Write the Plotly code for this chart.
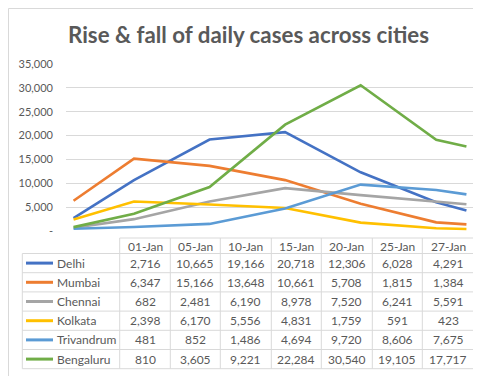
import plotly.graph_objects as go

# ---- data ----
cities = ["Delhi", "Mumbai", "Chennai", "Kolkata", "Trivandrum", "Bengaluru"]
dates = ["2021-01-01", "2021-01-05", "2021-01-10", "2021-01-15",
         "2021-01-20", "2021-01-25", "2021-01-27"]
date_labels = ["01-Jan", "05-Jan", "10-Jan", "15-Jan", "20-Jan", "25-Jan", "27-Jan"]
delhi = [2716, 10665, 19166, 20718, 12306, 6028, 4291]
mumbai = [6347, 15166, 13648, 10661, 5708, 1815, 1384]
chennai = [682, 2481, 6190, 8978, 7520, 6241, 5591]
kolkata = [2398, 6170, 5556, 4831, 1759, 591, 423]
trivandrum = [481, 852, 1486, 4694, 9720, 8606, 7675]
bengaluru = [810, 3605, 9221, 22284, 30540, 19105, 17717]
colors = ["#4472C4", "#ED7D31", "#A5A5A5", "#FFC000", "#5B9BD5", "#70AD47"]
y_ticks = [0, 5000, 10000, 15000, 20000, 25000, 30000, 35000]
y_tick_text = ["-", "5,000", "10,000", "15,000", "20,000", "25,000", "30,000", "35,000"]

series = [delhi, mumbai, chennai, kolkata, trivandrum, bengaluru]

W, H = 481, 376
ML, MR, MT, MB = 58, 15, 56, 153
PW = W - ML - MR
PH = H - MT - MB
FONT = "Lato"
TXT = "#595959"
GRID = "#D9D9D9"


def px(x):
    return (x - ML) / PW


def py(y):
    return (H - MB - y) / PH


fig = go.Figure()
for name, vals, col in zip(cities, series, colors):
    fig.add_trace(go.Scatter(x=dates, y=vals, name=name, mode="lines",
                             line=dict(color=col, width=2.6),
                             showlegend=False))

shapes = []
annotations = []

# table geometry
col_edges = [14.3, 111.7, 162.3, 212.3, 263.3, 313.3, 364.3, 414.3, 465.7]
head_top = 230.0
head_bot = 245.5
row_h = 19.2
n_rows = len(cities)
table_bot = head_bot + row_h * n_rows


def hline(x0, x1, y):
    shapes.append(dict(type="line", xref="paper", yref="paper",
                       x0=px(x0), x1=px(x1), y0=py(y), y1=py(y),
                       line=dict(color=GRID, width=1)))


def vline(x, y0, y1):
    shapes.append(dict(type="line", xref="paper", yref="paper",
                       x0=px(x), x1=px(x), y0=py(y0), y1=py(y1),
                       line=dict(color=GRID, width=1)))


hline(col_edges[1], col_edges[-1], head_top)
for k in range(n_rows + 1):
    hline(col_edges[0], col_edges[-1], head_bot + row_h * k)
vline(col_edges[0], head_bot, table_bot)
for xe in col_edges[1:]:
    vline(xe, head_top, table_bot)

# header labels
for j, lab in enumerate(date_labels):
    cx = (col_edges[j + 1] + col_edges[j + 2]) / 2
    annotations.append(dict(xref="paper", yref="paper", x=px(cx),
                            y=py((head_top + head_bot) / 2 + 0.5),
                            text=lab, showarrow=False, xanchor="center",
                            yanchor="middle",
                            font=dict(family=FONT, size=12, color=TXT)))

# rows
for i, (name, vals, col) in enumerate(zip(cities, series, colors)):
    cy = head_bot + row_h * i + row_h / 2
    shapes.append(dict(type="line", xref="paper", yref="paper",
                       x0=px(18), x1=px(45), y0=py(cy), y1=py(cy),
                       line=dict(color=col, width=3)))
    annotations.append(dict(xref="paper", yref="paper", x=px(46.5), y=py(cy),
                            text=name, showarrow=False, xanchor="left",
                            yanchor="middle",
                            font=dict(family=FONT, size=12, color=TXT)))
    for j, v in enumerate(vals):
        cx = (col_edges[j + 1] + col_edges[j + 2]) / 2
        annotations.append(dict(xref="paper", yref="paper", x=px(cx), y=py(cy),
                                text=f"{v:,}", showarrow=False, xanchor="center",
                                yanchor="middle",
                                font=dict(family=FONT, size=12, color=TXT)))

# outer chart border
shapes.append(dict(type="rect", xref="paper", yref="paper",
                   x0=px(0.5), x1=px(479.5), y0=py(0.5), y1=py(375.5),
                   line=dict(color=GRID, width=1)))

fig.update_layout(
    width=W, height=H,
    margin=dict(l=ML, r=MR, t=MT, b=MB, pad=0),
    paper_bgcolor="white", plot_bgcolor="white",
    title=dict(text="Rise & fall of daily cases across cities",
               x=0.5, xref="container", xanchor="center",
               y=1 - 27 / H, yref="container", yanchor="middle",
               font=dict(family=FONT, size=22.3, color=TXT, weight="bold")),
    xaxis=dict(type="date", range=["2020-12-31 12:00", "2021-01-27 12:00"],
               showticklabels=False, showgrid=False, zeroline=False,
               showline=False, fixedrange=True),
    yaxis=dict(range=[0, 35000], tickvals=y_ticks, ticktext=y_tick_text,
               showgrid=True, gridcolor=GRID, gridwidth=1, zeroline=False,
               showline=False, ticks="", ticklabelstandoff=12,
               tickfont=dict(family=FONT, size=11, color=TXT), fixedrange=True),
    shapes=shapes,
    annotations=annotations,
    showlegend=False,
)

fig.write_html("out.html")
